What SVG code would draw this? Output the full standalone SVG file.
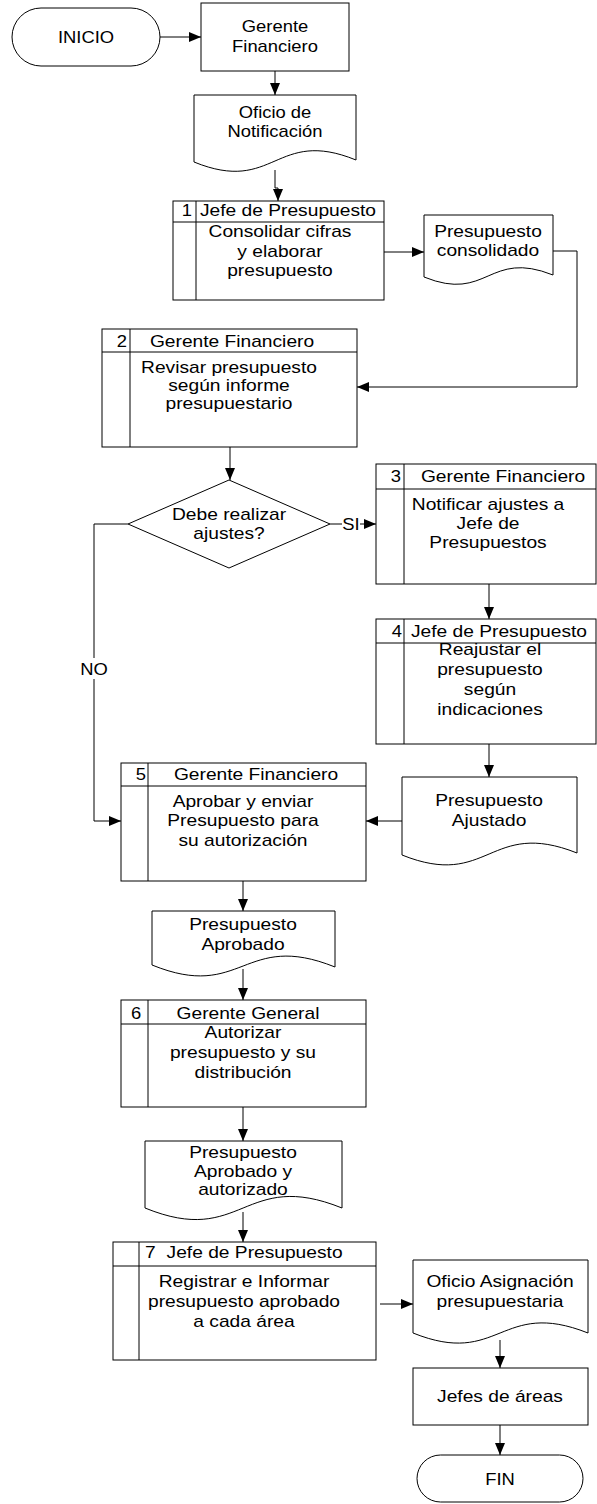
<svg xmlns="http://www.w3.org/2000/svg" width="597" height="1504" viewBox="0 0 597 1504">
<style>
.s{fill:#fff;stroke:#000;stroke-width:1}
.l{fill:none;stroke:#000;stroke-width:1}
.c{fill:none;stroke:#000;stroke-width:1}
.a{marker-end:url(#ah)}
text{font-family:"Liberation Sans",Arial,sans-serif;font-size:16px;fill:#000}
.m{text-anchor:middle}
.e{text-anchor:end}
</style>
<defs>
<marker id="ah" markerUnits="userSpaceOnUse" markerWidth="12" markerHeight="10" refX="12" refY="5" orient="auto">
<path d="M0,0 L12,5 L0,10 z" fill="#000"/>
</marker>
</defs>
<rect width="597" height="1504" fill="#fff"/>
<g id="connectors">
<path class="c a" d="M160,37 H201"/>
<path class="c a" d="M275,71 V95"/>
<path class="c a" d="M275,170 V188 H278 V201"/>
<path class="c a" d="M384,252 H424"/>
<path class="c a" d="M553,251 H577 V387 H357"/>
<path class="c a" d="M230,447 V480"/>
<path class="c a" d="M330,524 H376"/>
<rect x="342" y="514" width="18" height="18" fill="#fff"/>
<text x="351" y="530" class="m" transform="translate(351 0) scale(1.15 1) translate(-351 0)">SI</text>
<path class="c a" d="M128,524 H94 V821 H121"/>
<rect x="80" y="658" width="30" height="21" fill="#fff"/>
<text x="94" y="675" class="m" transform="translate(94 0) scale(1.15 1) translate(-94 0)">NO</text>
<path class="c a" d="M489,584 V619"/>
<path class="c a" d="M489,744 V777"/>
<path class="c a" d="M402,821 H366"/>
<path class="c a" d="M243,881 V911"/>
<path class="c a" d="M243,969 V1000"/>
<path class="c a" d="M243,1107 V1141"/>
<path class="c a" d="M243,1212 V1242"/>
<path class="c a" d="M380,1304 H413"/>
<path class="c a" d="M500,1340 V1368"/>
<path class="c a" d="M500,1425 V1455"/>
</g>
<g id="inicio">
<rect class="s" x="12" y="8" width="148" height="58" rx="29" ry="29"/>
<text class="m" transform="translate(86 0) scale(1.15 1)" x="0" y="43">INICIO</text>
</g>
<g id="gerente-financiero">
<rect class="s" x="201" y="3" width="148" height="68"/>
<text class="m" transform="translate(275 0) scale(1.15 1)"><tspan x="0" y="32">Gerente</tspan><tspan x="0" y="52">Financiero</tspan></text>
</g>
<g id="oficio-notificacion">
<path class="s" d="M194,95 H356 V160 C275,127 275,195 194,162 Z"/>
<text class="m" transform="translate(275 0) scale(1.15 1)"><tspan x="0" y="118">Oficio de</tspan><tspan x="0" y="137">Notificación</tspan></text>
</g>
<g id="paso1">
<rect class="s" x="173" y="201" width="211" height="99"/>
<path class="l" d="M173,222 H384 M196,201 V300"/>
<text class="e" transform="translate(192 0) scale(1.15 1)" x="0" y="216">1</text>
<text class="m" transform="translate(288 0) scale(1.2 1)" x="0" y="216">Jefe de Presupuesto</text>
<text class="m" transform="translate(280 0) scale(1.2 1)"><tspan x="0" y="237">Consolidar cifras</tspan><tspan x="0" y="257">y elaborar</tspan><tspan x="0" y="276">presupuesto</tspan></text>
</g>
<g id="presupuesto-consolidado">
<path class="s" d="M424,215 H553 V275 C488,249 488,303 424,277 Z"/>
<text class="m" transform="translate(488 0) scale(1.2 1)"><tspan x="0" y="237">Presupuesto</tspan><tspan x="0" y="256">consolidado</tspan></text>
</g>
<g id="paso2">
<rect class="s" x="102" y="329" width="255" height="118"/>
<path class="l" d="M102,352 H357 M130,329 V447"/>
<text class="e" transform="translate(127 0) scale(1.15 1)" x="0" y="347">2</text>
<text class="m" transform="translate(232 0) scale(1.2 1)" x="0" y="347">Gerente Financiero</text>
<text class="m" transform="translate(229 0) scale(1.2 1)"><tspan x="0" y="373">Revisar presupuesto</tspan><tspan x="0" y="391">según informe</tspan><tspan x="0" y="409">presupuestario</tspan></text>
</g>
<g id="decision">
<path class="s" d="M229,480 L330,524 L229,568 L128,524 Z"/>
<text class="m" transform="translate(229 0) scale(1.2 1)"><tspan x="0" y="520">Debe realizar</tspan><tspan x="0" y="539">ajustes?</tspan></text>
</g>
<g id="paso3">
<rect class="s" x="376" y="464" width="220" height="120"/>
<path class="l" d="M376,489 H596 M404,464 V584"/>
<text class="e" transform="translate(401 0) scale(1.15 1)" x="0" y="482">3</text>
<text class="m" transform="translate(503 0) scale(1.2 1)" x="0" y="482">Gerente Financiero</text>
<text class="m" transform="translate(488 0) scale(1.2 1)"><tspan x="0" y="510">Notificar ajustes a</tspan><tspan x="0" y="529">Jefe de</tspan><tspan x="0" y="548">Presupuestos</tspan></text>
</g>
<g id="paso4">
<rect class="s" x="376" y="619" width="220" height="125"/>
<path class="l" d="M376,643 H596 M404,619 V744"/>
<text class="e" transform="translate(402 0) scale(1.15 1)" x="0" y="637">4</text>
<text class="m" transform="translate(499 0) scale(1.2 1)" x="0" y="637">Jefe de Presupuesto</text>
<text class="m" transform="translate(490 0) scale(1.2 1)"><tspan x="0" y="655">Reajustar el</tspan><tspan x="0" y="675">presupuesto</tspan><tspan x="0" y="695">según</tspan><tspan x="0" y="715">indicaciones</tspan></text>
</g>
<g id="presupuesto-ajustado">
<path class="s" d="M402,777 H577 V853 C489,818 489,890 402,855 Z"/>
<text class="m" transform="translate(489 0) scale(1.2 1)"><tspan x="0" y="806">Presupuesto</tspan><tspan x="0" y="826">Ajustado</tspan></text>
</g>
<g id="paso5">
<rect class="s" x="121" y="763" width="245" height="118"/>
<path class="l" d="M121,786 H366 M148,763 V881"/>
<text class="e" transform="translate(146 0) scale(1.15 1)" x="0" y="780">5</text>
<text class="m" transform="translate(256 0) scale(1.2 1)" x="0" y="780">Gerente Financiero</text>
<text class="m" transform="translate(243 0) scale(1.2 1)"><tspan x="0" y="807">Aprobar y enviar</tspan><tspan x="0" y="826">Presupuesto para</tspan><tspan x="0" y="846">su autorización</tspan></text>
</g>
<g id="presupuesto-aprobado">
<path class="s" d="M152,911 H335 V967 C243,930 243,1002 152,965 Z"/>
<text class="m" transform="translate(243 0) scale(1.2 1)"><tspan x="0" y="930">Presupuesto</tspan><tspan x="0" y="950">Aprobado</tspan></text>
</g>
<g id="paso6">
<rect class="s" x="121" y="1000" width="245" height="107"/>
<path class="l" d="M121,1024 H366 M148,1000 V1107"/>
<text class="m" transform="translate(136 0) scale(1.15 1)" x="0" y="1019">6</text>
<text class="m" transform="translate(248 0) scale(1.2 1)" x="0" y="1019">Gerente General</text>
<text class="m" transform="translate(243 0) scale(1.2 1)"><tspan x="0" y="1038">Autorizar</tspan><tspan x="0" y="1058">presupuesto y su</tspan><tspan x="0" y="1078">distribución</tspan></text>
</g>
<g id="presupuesto-autorizado">
<path class="s" d="M145,1141 H342 V1208 C243,1168 243,1248 145,1208 Z"/>
<text class="m" transform="translate(243 0) scale(1.2 1)"><tspan x="0" y="1158">Presupuesto</tspan><tspan x="0" y="1177">Aprobado y</tspan><tspan x="0" y="1195">autorizado</tspan></text>
</g>
<g id="paso7">
<rect class="s" x="113" y="1242" width="263" height="118"/>
<path class="l" d="M113,1266 H376 M139,1242 V1360"/>
<text transform="translate(145 0) scale(1.2 1)" y="1258"><tspan x="0">7</tspan><tspan x="18">Jefe de Presupuesto</tspan></text>
<text class="m" transform="translate(244 0) scale(1.2 1)"><tspan x="0" y="1287">Registrar e Informar</tspan><tspan x="0" y="1307">presupuesto aprobado</tspan><tspan x="0" y="1327">a cada área</tspan></text>
</g>
<g id="oficio-asignacion">
<path class="s" d="M413,1260 H588 V1333 C500,1298 500,1368 413,1333 Z"/>
<text class="m" transform="translate(500 0) scale(1.2 1)"><tspan x="0" y="1287">Oficio Asignación</tspan><tspan x="0" y="1307">presupuestaria</tspan></text>
</g>
<g id="jefes-areas">
<rect class="s" x="413" y="1368" width="175" height="57"/>
<text class="m" transform="translate(500 0) scale(1.2 1)" x="0" y="1402">Jefes de áreas</text>
</g>
<g id="fin">
<rect class="s" x="417" y="1455" width="166" height="47" rx="23.5" ry="23.5"/>
<text class="m" transform="translate(500 0) scale(1.15 1)" x="0" y="1485">FIN</text>
</g>
</svg>
